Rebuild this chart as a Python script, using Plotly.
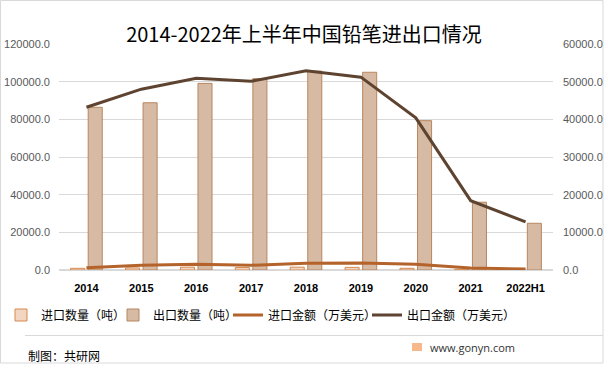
import plotly.graph_objects as go

categories = ["2014", "2015", "2016", "2017", "2018", "2019", "2020", "2021", "2022H1"]
import_qty = [900, 1100, 1500, 1300, 1500, 1400, 900, 400, 200]
export_qty = [86400, 88800, 99100, 101600, 105600, 105000, 79300, 36000, 24800]
import_val = [620, 1250, 1500, 1250, 1780, 1860, 1500, 530, 270]
export_val = [43200, 48000, 50900, 50100, 52900, 51200, 40400, 18400, 12800]

W, H = 608, 375
L, R, T, B = 59, 55, 44, 105
PW, PH = W - L - R, H - T - B

def px(x):
    return (x - L) / PW

def py(y):
    return (H - B - y) / PH

font = "Noto Sans CJK SC"

fig = go.Figure()
fig.add_trace(go.Bar(x=categories, y=import_qty, name="进口数量（吨）", legend="legend", showlegend=True,
                     marker=dict(color="#F3D6C1", line=dict(color="#D4894F", width=1))))
fig.add_trace(go.Bar(x=categories, y=export_qty, name="出口数量（吨）", legend="legend2", showlegend=True,
                     marker=dict(color="#D6BAA4", line=dict(color="#B8865F", width=1))))
fig.add_trace(go.Scatter(x=categories, y=import_val, name="进口金额（万美元）", yaxis="y2", showlegend=True,
                         legend="legend3", mode="lines", line=dict(color="#B4632A", width=3)))
fig.add_trace(go.Scatter(x=categories, y=export_val, name="出口金额（万美元）", yaxis="y2", showlegend=True,
                         legend="legend4", mode="lines", line=dict(color="#5E4430", width=3)))

shapes = [
    dict(type="rect", xref="paper", yref="paper", x0=px(0.5), x1=px(603), y0=py(0.5), y1=py(363),
         line=dict(color="#D9D9D9", width=1), layer="below"),
    dict(type="line", xref="paper", yref="paper", x0=px(25), x1=px(603), y0=py(335.5), y1=py(335.5),
         line=dict(color="#D9D9D9", width=1)),
    dict(type="rect", xref="paper", yref="paper", x0=px(412), x1=px(422), y0=py(343), y1=py(351),
         line=dict(width=0), fillcolor="#F7B98C"),
]

annotations = [
    dict(text="制图：共研网", xref="paper", yref="paper", x=px(26), y=py(355), xanchor="left",
         yanchor="middle", showarrow=False, font=dict(family=font, size=12, color="#000000")),
    dict(text="www.gonyn.com", xref="paper", yref="paper", x=px(428), y=py(347), xanchor="left",
         yanchor="middle", showarrow=False, font=dict(family="Open Sans", size=11, color="#333333")),
]

def leg(text_start):
    return dict(orientation="h", x=px(max(text_start - 40, 1)), y=py(315), xanchor="left",
                yanchor="middle", font=dict(family=font, size=12, color="#000000"),
                bgcolor="rgba(0,0,0,0)", visible=True)

fig.update_layout(
    width=W, height=H, showlegend=True,
    margin=dict(l=L, r=R, t=T, b=B, autoexpand=False),
    paper_bgcolor="white", plot_bgcolor="white",
    title=dict(text="2014-2022年上半年中国铅笔进出口情况", x=0.5, xref="container", xanchor="center",
               y=1 - 35 / H, yanchor="middle", font=dict(family=font, size=20, color="#000000")),
    barmode="group", bargap=0.36, bargroupgap=0.2,
    xaxis=dict(tickfont=dict(family="Liberation Sans", size=11, color="#000000", weight="bold"),
               showgrid=False, showline=False, ticks="", automargin=False, ticklabelstandoff=10),
    yaxis=dict(range=[0, 120000], dtick=20000, tickformat=".1f", gridcolor="#D9D9D9",
               zeroline=True, zerolinecolor="#D9D9D9", showline=False, automargin=False,
               ticklabelstandoff=8,
               tickfont=dict(family="Liberation Sans", size=11, color="#595959")),
    yaxis2=dict(range=[0, 60000], dtick=10000, tickformat=".1f", overlaying="y", side="right",
                showgrid=False, zeroline=False, showline=False, automargin=False,
                ticklabelstandoff=9,
                tickfont=dict(family="Liberation Sans", size=11, color="#595959")),
    legend=leg(37), legend2=leg(153), legend3=leg(268), legend4=leg(407),
    shapes=shapes, annotations=annotations,
)

fig.write_html("out.html", config={"displayModeBar": False},
               post_script="document.body.style.margin='0';")
